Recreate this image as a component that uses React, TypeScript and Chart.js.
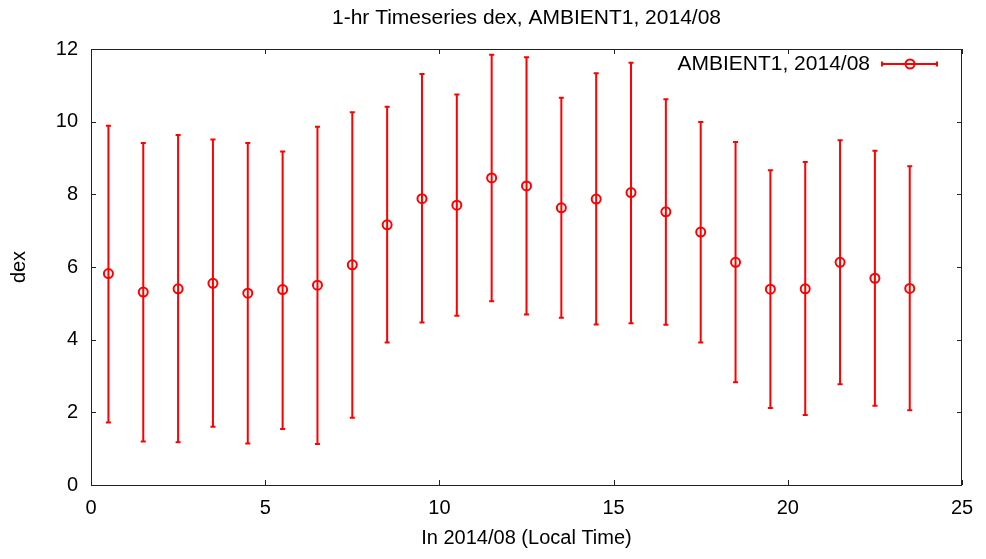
import React, { useEffect, useRef } from "react";
import { Chart, registerables } from "chart.js";

Chart.register(...registerables);

const chartTitle = "1-hr Timeseries dex, AMBIENT1, 2014/08";
const seriesLabel = "AMBIENT1, 2014/08";
const xAxisTitle = "In 2014/08 (Local Time)";
const yAxisTitle = "dex";

const hours = [0.5, 1.5, 2.5, 3.5, 4.5, 5.5, 6.5, 7.5, 8.5, 9.5, 10.5, 11.5, 12.5, 13.5, 14.5, 15.5, 16.5, 17.5, 18.5, 19.5, 20.5, 21.5, 22.5, 23.5];
const means = [5.82, 5.31, 5.40, 5.55, 5.28, 5.38, 5.50, 6.06, 7.16, 7.88, 7.70, 8.45, 8.23, 7.63, 7.87, 8.05, 7.52, 6.96, 6.13, 5.39, 5.40, 6.13, 5.69, 5.41];
const upper = [9.89, 9.41, 9.63, 9.51, 9.41, 9.18, 9.86, 10.26, 10.41, 11.31, 10.75, 11.84, 11.77, 10.66, 11.33, 11.62, 10.62, 9.99, 9.44, 8.66, 8.89, 9.49, 9.20, 8.77];
const lower = [1.72, 1.20, 1.18, 1.60, 1.14, 1.54, 1.13, 1.85, 3.92, 4.47, 4.66, 5.06, 4.69, 4.60, 4.42, 4.45, 4.41, 3.92, 2.83, 2.12, 1.93, 2.77, 2.18, 2.06];

const xMin = 0, xMax = 25, xStep = 5;
const yMin = 0, yMax = 12, yStep = 2;

const RED = "#ff0000";
const FONT = "'Liberation Sans', Arial, Helvetica, sans-serif";

const errorBarPlugin = {
  id: "errorBars",
  beforeDatasetsDraw(chart: any) {
    const ctx = chart.ctx;
    const xs = chart.scales.x;
    const ys = chart.scales.y;
    ctx.save();
    ctx.strokeStyle = RED;
    ctx.lineWidth = 2;
    hours.forEach((h, i) => {
      const px = xs.getPixelForValue(h);
      const pu = ys.getPixelForValue(upper[i]);
      const pl = ys.getPixelForValue(lower[i]);
      ctx.beginPath();
      ctx.moveTo(px, pu);
      ctx.lineTo(px, pl);
      ctx.moveTo(px - 2.5, pu);
      ctx.lineTo(px + 2.5, pu);
      ctx.moveTo(px - 2.5, pl);
      ctx.lineTo(px + 2.5, pl);
      ctx.stroke();
    });
    ctx.restore();
  },
  afterDraw(chart: any) {
    const ctx = chart.ctx;
    const { left, right, top, bottom } = chart.chartArea;
    const xs = chart.scales.x;
    const ys = chart.scales.y;
    ctx.save();
    // frame
    ctx.strokeStyle = "#222";
    ctx.lineWidth = 1;
    ctx.strokeRect(left + 0.5, top + 0.5, right - left - 1, bottom - top);
    // inward ticks on all sides
    const tl = 5;
    ctx.beginPath();
    for (let v = xMin; v <= xMax; v += xStep) {
      const px = Math.round(xs.getPixelForValue(v)) + 0.5;
      ctx.moveTo(px, bottom);
      ctx.lineTo(px, bottom - tl);
      ctx.moveTo(px, top);
      ctx.lineTo(px, top + tl);
    }
    for (let v = yMin; v <= yMax; v += yStep) {
      const py = Math.round(ys.getPixelForValue(v)) + 0.5;
      ctx.moveTo(left, py);
      ctx.lineTo(left + tl, py);
      ctx.moveTo(right, py);
      ctx.lineTo(right - tl, py);
    }
    ctx.stroke();

    // title
    ctx.fillStyle = "#000";
    ctx.font = `21px ${FONT}`;
    ctx.textAlign = "center";
    ctx.textBaseline = "middle";
    ctx.fillText(chartTitle, (left + right) / 2, 18);
    // x axis title
    ctx.font = `20px ${FONT}`;
    ctx.fillText(xAxisTitle, (left + right) / 2, 538);
    // y axis title
    ctx.save();
    ctx.translate(19, (top + bottom) / 2);
    ctx.rotate(-Math.PI / 2);
    ctx.fillText(yAxisTitle, 0, 0);
    ctx.restore();

    // legend
    const ly = 64;
    ctx.font = `21px ${FONT}`;
    ctx.textAlign = "right";
    ctx.fillText(seriesLabel, 870, ly);
    ctx.strokeStyle = RED;
    ctx.lineWidth = 2;
    ctx.beginPath();
    ctx.moveTo(882, ly);
    ctx.lineTo(937, ly);
    ctx.moveTo(882, ly - 2.5);
    ctx.lineTo(882, ly + 2.5);
    ctx.moveTo(937, ly - 2.5);
    ctx.lineTo(937, ly + 2.5);
    ctx.stroke();
    ctx.beginPath();
    ctx.arc(910, ly, 4.5, 0, Math.PI * 2);
    ctx.stroke();
    ctx.restore();
  },
};

export default function App() {
  const ref = useRef<HTMLCanvasElement | null>(null);
  useEffect(() => {
    document.body.style.margin = "0";
    if (!ref.current) return;
    const chart = new Chart(ref.current, {
      type: "line",
      data: {
        datasets: [
          {
            label: seriesLabel,
            data: hours.map((h, i) => ({ x: h, y: means[i] })),
            showLine: false,
            borderColor: RED,
            backgroundColor: "rgba(0,0,0,0)",
            pointRadius: 4.5,
            pointBorderWidth: 2,
            pointBorderColor: RED,
            pointBackgroundColor: "rgba(0,0,0,0)",
            pointStyle: "circle",
          },
        ],
      },
      options: {
        animation: false,
        responsive: true,
        maintainAspectRatio: false,
        devicePixelRatio: 1,
        layout: { padding: { top: 49, right: 24, left: 0, bottom: 0 } },
        plugins: {
          legend: { display: false },
          title: { display: false },
          tooltip: { enabled: false },
        },
        scales: {
          x: {
            type: "linear",
            min: xMin,
            max: xMax,
            grid: { display: false, drawTicks: false },
            border: { display: false },
            ticks: {
              stepSize: xStep,
              padding: 11,
              color: "#000",
              font: { family: FONT, size: 20 },
              maxRotation: 0,
            },
            afterFit(scale: any) {
              scale.height = 74;
            },
          },
          y: {
            type: "linear",
            min: yMin,
            max: yMax,
            grid: { display: false, drawTicks: false },
            border: { display: false },
            ticks: {
              stepSize: yStep,
              padding: 13,
              color: "#000",
              font: { family: FONT, size: 20 },
            },
            afterFit(scale: any) {
              scale.width = 91;
            },
          },
        },
      },
      plugins: [errorBarPlugin],
    } as any);
    return () => chart.destroy();
  }, []);
  return (
    <div style={{ width: 986, height: 559, position: "relative", background: "#fff" }}>
      <canvas ref={ref} />
    </div>
  );
}
